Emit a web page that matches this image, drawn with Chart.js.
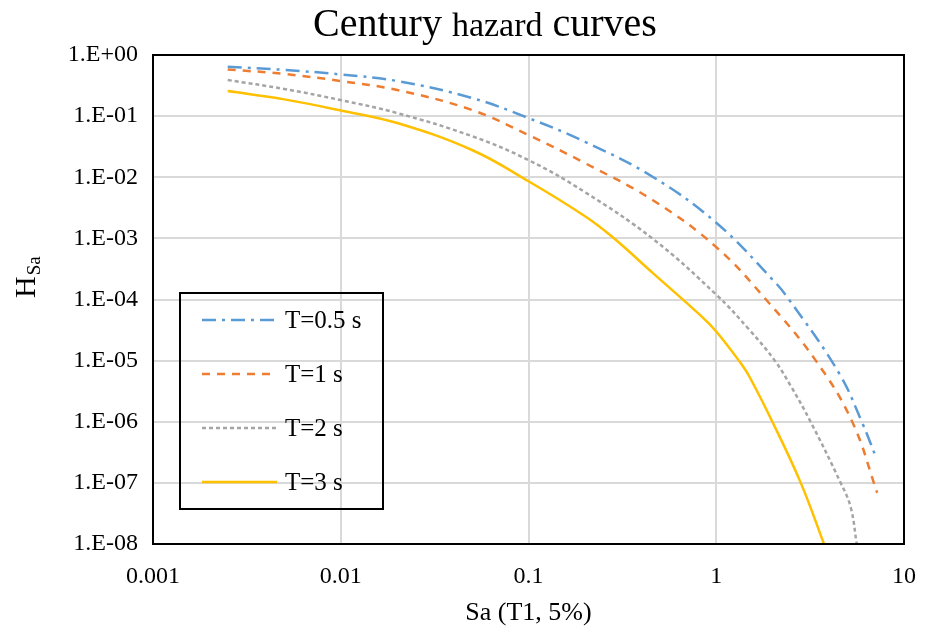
<!DOCTYPE html>
<html>
<head>
<meta charset="utf-8">
<script src="https://cdn.jsdelivr.net/npm/chart.js@4.4.0/dist/chart.umd.min.js"></script>
<style>
html, body { margin: 0; padding: 0; background: #fff; }
#wrap { width: 934px; height: 636px; }
</style>
</head>
<body>
<div id="wrap"><canvas id="hazardChart" width="934" height="636"></canvas></div>
<script>
const seriesLabels = ['T=0.5 s', 'T=1 s', 'T=2 s', 'T=3 s'];

// Sa values (g) and annual exceedance rates
const saT05 = [0.0025, 0.005, 0.01, 0.02, 0.05, 0.1, 0.2, 0.46, 1, 2, 2.44, 4.5, 6, 7.1];
const hT05 = [0.64, 0.57, 0.48, 0.375, 0.198, 0.093, 0.038, 0.0101, 0.0018, 2.1e-4, 1e-4, 6.3e-6, 9.5e-7, 2.6e-7];

const saT1 = [0.0025, 0.005, 0.01, 0.02, 0.05, 0.1, 0.2, 0.46, 1, 1.84, 3.39, 5.3, 7.2];
const hT1 = [0.58, 0.49, 0.375, 0.267, 0.126, 0.049, 0.017, 0.0042, 7.2e-4, 1e-4, 1e-5, 1e-6, 6.9e-8];

const saT2 = [0.0025, 0.005, 0.01, 0.02, 0.05, 0.1, 0.2, 0.46, 1, 1.5, 2.05, 2.5, 3.18, 4.6, 5.2, 5.6];
const hT2 = [0.39, 0.278, 0.183, 0.112, 0.047, 0.0191, 0.0057, 9.8e-4, 1.2e-4, 3.2e-5, 1e-5, 3.8e-6, 1e-6, 1e-7, 4e-8, 1e-8];

const saT3 = [0.0025, 0.005, 0.01, 0.02, 0.05, 0.1, 0.2, 0.28, 0.46, 0.84, 1, 1.32, 1.5, 1.99, 2.82, 3.75];
const hT3 = [0.257, 0.188, 0.124, 0.077, 0.0279, 0.0086, 0.0023, 1.05e-3, 2.7e-4, 5.2e-5, 3e-5, 1e-5, 5.5e-6, 1e-6, 1e-7, 1e-8];

const xTickValues = [0.001, 0.01, 0.1, 1, 10];
const xTickLabels = ['0.001', '0.01', '0.1', '1', '10'];
const yTickValues = [1, 1e-1, 1e-2, 1e-3, 1e-4, 1e-5, 1e-6, 1e-7, 1e-8];
const yTickLabels = ['1.E+00', '1.E-01', '1.E-02', '1.E-03', '1.E-04', '1.E-05', '1.E-06', '1.E-07', '1.E-08'];

const serif = '"Liberation Serif", "Times New Roman", serif';

const toPoints = (xs, ys) => xs.map((x, i) => ({ x, y: ys[i] }));

const lineSet = (label, xs, ys, color, dash) => ({
    label,
    data: toPoints(xs, ys),
    borderColor: color,
    backgroundColor: color,
    borderWidth: 2.5,
    borderDash: dash,
    borderCapStyle: 'butt',
    pointRadius: 0,
    showLine: true,
    tension: 0.4,
    fill: false,
});

// title with mixed sizes, H_Sa axis title, frame and boxed legend
const decorations = {
    id: 'decorations',
    afterDatasetsDraw(chart) {
        const { ctx, chartArea: a } = chart;
        ctx.save();
        ctx.strokeStyle = '#000';
        ctx.lineWidth = 2;
        ctx.strokeRect(a.left, a.top, a.right - a.left, a.bottom - a.top);

        // legend box
        const bx = a.left + 27, by = a.top + 238, bw = 203, bh = 216;
        ctx.strokeRect(bx, by, bw, bh);
        ctx.font = '25px ' + serif;
        ctx.textBaseline = 'middle';
        ctx.fillStyle = '#000';
        chart.data.datasets.forEach((ds, i) => {
            const y = by + 27 + i * 54;
            ctx.beginPath();
            ctx.setLineDash(ds.borderDash || []);
            ctx.strokeStyle = ds.borderColor;
            ctx.lineWidth = 2.5;
            ctx.moveTo(bx + 22, y);
            ctx.lineTo(bx + 97, y);
            ctx.stroke();
            ctx.setLineDash([]);
            ctx.fillText(ds.label, bx + 105, y + 1);
        });
        ctx.restore();
    },
    afterDraw(chart) {
        const { ctx } = chart;
        ctx.save();
        ctx.fillStyle = '#000';
        ctx.textBaseline = 'alphabetic';
        ctx.textAlign = 'left';
        const parts = [['Century', 40], ['hazard', 34], ['curves', 40]];
        let total = 0;
        const widths = parts.map(([t, s]) => {
            ctx.font = s + 'px ' + serif;
            const w = ctx.measureText(t).width;
            total += w;
            return w;
        });
        const gap = 10;
        total += gap * (parts.length - 1);
        let x = 485 - total / 2;
        parts.forEach(([t, s], i) => {
            ctx.font = s + 'px ' + serif;
            ctx.fillText(t, x, 36);
            x += widths[i] + gap;
        });

        ctx.translate(35, 298);
        ctx.rotate(-Math.PI / 2);
        ctx.font = '30px ' + serif;
        ctx.fillText('H', 0, 0);
        const hw = ctx.measureText('H').width;
        ctx.font = '19px ' + serif;
        ctx.fillText('Sa', hw + 1, 5);
        ctx.restore();
    }
};

const initChart = () => {
    const ctx = document.getElementById('hazardChart');
    new Chart(ctx, {
        type: 'scatter',
        data: {
            datasets: [
                lineSet(seriesLabels[0], saT05, hT05, '#5B9BD5', [14, 6, 3, 6]),
                lineSet(seriesLabels[1], saT1, hT1, '#ED7D31', [8, 7]),
                lineSet(seriesLabels[2], saT2, hT2, '#A5A5A5', [4, 3]),
                lineSet(seriesLabels[3], saT3, hT3, '#FFC000', []),
            ]
        },
        options: {
            responsive: false,
            animation: false,
            devicePixelRatio: 1,
            layout: { padding: { top: 55, right: 30, left: 0, bottom: 0 } },
            plugins: {
                legend: { display: false },
                title: { display: false },
                tooltip: { enabled: false },
            },
            scales: {
                x: {
                    type: 'logarithmic',
                    min: 0.001,
                    max: 10,
                    afterBuildTicks: (scale) => { scale.ticks = xTickValues.map(value => ({ value })); },
                    afterFit: (scale) => { scale.height = 92; },
                    ticks: {
                        autoSkip: false,
                        maxRotation: 0,
                        padding: 18,
                        color: '#000',
                        font: { family: serif, size: 24 },
                        callback: (value, i) => xTickLabels[i],
                    },
                    grid: { color: '#d9d9d9', lineWidth: 2, drawTicks: false },
                    border: { display: false },
                    title: {
                        display: true,
                        text: 'Sa (T1, 5%)',
                        color: '#000',
                        font: { family: serif, size: 26 },
                        padding: { top: 0, bottom: 7 },
                    },
                },
                y: {
                    type: 'logarithmic',
                    min: 1e-8,
                    max: 1,
                    afterBuildTicks: (scale) => { scale.ticks = yTickValues.map(value => ({ value })); },
                    afterFit: (scale) => { scale.width = 153; },
                    ticks: {
                        autoSkip: false,
                        padding: 15,
                        color: '#000',
                        font: { family: serif, size: 24 },
                        callback: (value, i) => yTickLabels[i],
                    },
                    grid: { color: '#d9d9d9', lineWidth: 2, drawTicks: false },
                    border: { display: false },
                    title: { display: false },
                },
            },
        },
        plugins: [decorations],
    });
};

window.addEventListener('DOMContentLoaded', initChart);
</script>
</body>
</html>
